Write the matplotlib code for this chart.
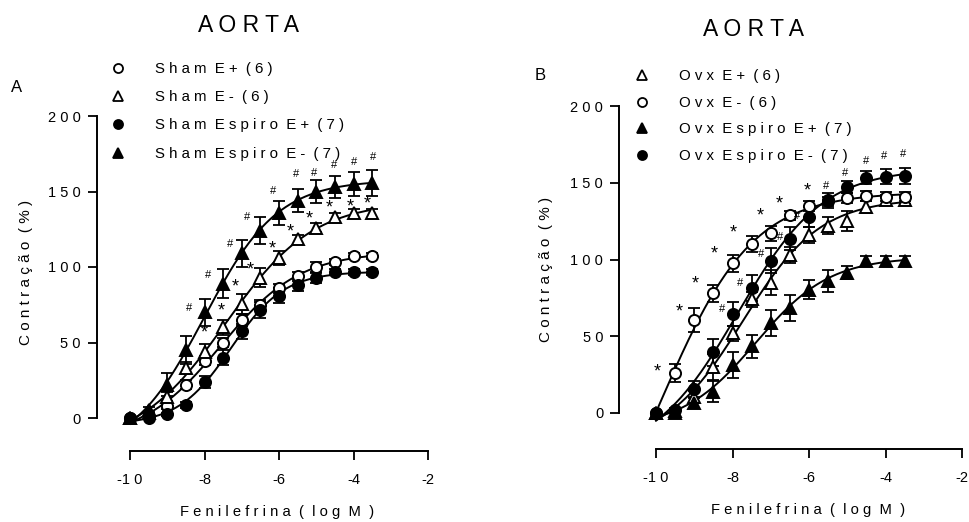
import numpy as np
import matplotlib
matplotlib.use("Agg")
import matplotlib.pyplot as plt
from matplotlib.lines import Line2D

plt.rcParams["font.family"] = ["Liberation Sans", "DejaVu Sans"]

# log [fenilefrina] (M)
log_conc = [-10, -9.5, -9, -8.5, -8, -7.5, -7, -6.5, -6, -5.5, -5, -4.5, -4, -3.5]

# panel A - Sham
sham_e_pos = [0, 1, 8, 22, 38, 50, 65, 75, 86, 94, 100, 103.5, 107, 107]
sham_e_pos_sem = [0, 1, 2, 3, 3, 3, 4, 3, 3, 3, 3, 2, 2, 2]
sham_e_neg = [0, 3, 14, 33, 44, 60, 75.5, 93, 106, 118.5, 126, 133, 135.5, 135.5]
sham_e_neg_sem = [0, 1, 3, 4, 5, 5, 6.5, 6.5, 4.5, 3, 3, 3, 3, 3]
sham_espiro_e_pos = [0, 0, 2.5, 8.5, 24, 40, 57.5, 71.5, 81, 88, 93, 96.5, 96.5, 96.5]
sham_espiro_e_pos_sem = [0, 0, 1, 2, 4, 5, 5, 5, 5, 4, 3.3, 2, 2, 2]
sham_espiro_e_neg = [0, 5, 22, 45, 70, 89, 109, 124, 136, 144, 150, 153, 155, 155.5]
sham_espiro_e_neg_sem = [0, 2, 7.5, 9.5, 9, 9.5, 9, 9, 8, 7.5, 7.5, 7.5, 8, 8.5]

# panel B - Ovx
ovx_e_pos = [0, 1, 10.5, 30, 52, 74, 85, 103, 116, 122, 125, 134, 139, 139]
ovx_e_pos_sem = [0, 1, 4, 8.5, 5, 5, 8, 5, 5, 5.5, 6.5, 4, 3.3, 3]
ovx_e_neg = [0, 26, 60.5, 78, 97.5, 110, 117, 128.7, 134.8, 138, 140, 141.3, 141, 141]
ovx_e_neg_sem = [0, 5.7, 7.6, 5.4, 5.4, 5.4, 5, 3, 3, 3, 3, 3, 3, 3]
ovx_espiro_e_pos = [0, 0, 6.5, 14, 31.5, 43.5, 58.7, 68.5, 80.4, 86, 91.3, 99, 99, 99]
ovx_espiro_e_pos_sem = [0, 0, 3, 7, 8.5, 7.5, 8.5, 8.5, 6, 7, 4.3, 3.3, 3, 3]
ovx_espiro_e_neg = [0, 2, 15.5, 39.5, 64.5, 81.5, 99.3, 113.5, 127.6, 138.5, 147.2, 153.3, 154, 154.3]
ovx_espiro_e_neg_sem = [0, 1, 5.4, 8.7, 7.8, 8.7, 8.4, 7.6, 6.5, 4.9, 3.8, 4.3, 4.9, 5.4]

# significance marks (x, y)
sham_hash_x = [-8.42, -7.91, -7.32, -6.86, -6.17, -5.54, -5.07, -4.52, -3.99, -3.48]
sham_hash_y = [72.6, 95, 115, 133, 150, 161.6, 162.5, 167.5, 169.7, 173]
sham_star_x = [-8.0, -7.56, -7.18, -6.76, -6.17, -5.70, -5.19, -4.65, -4.09, -3.62]
sham_star_y = [56.5, 71, 86.5, 98, 112, 123, 131.5, 139, 140, 142]
ovx_hash_x = [-8.26, -7.80, -7.25, -6.76, -6.31, -5.56, -5.06, -4.52, -4.04, -3.53]
ovx_hash_y = [67.8, 84.8, 103.3, 114.8, 128.3, 147.8, 156.5, 164, 167.4, 168.5]
ovx_star_x = [-9.98, -9.39, -8.98, -8.48, -7.98, -7.28, -6.78, -6.05, -4.55]
ovx_star_y = [27, 65.7, 84, 103.7, 117.4, 128.3, 136.3, 144.6, 149]

x_ticks = [-10, -8, -6, -4, -2]
y_ticks = [0, 50, 100, 150, 200]

labels_A = ["Sham E+ (6)", "Sham E- (6)", "Sham Espiro E+ (7)", "Sham Espiro E- (7)"]
labels_B = ["Ovx E+ (6)", "Ovx E- (6)", "Ovx Espiro E+ (7)", "Ovx Espiro E- (7)"]


def spaced(s):
    return "  ".join(" ".join(w) for w in s.split())


def tick_text(v):
    s = str(abs(v))
    return ("-" if v < 0 else "") + " ".join(s)


def fit_curve(x, y):
    # sigmoid dose-response fit (bottom, top, logEC50, hill)
    x = np.asarray(x, float)
    y = np.asarray(y, float)
    n = len(x)
    c = np.arange(-9.9, -5.0, 0.01)[:, None, None]
    h = np.arange(0.3, 2.0, 0.01)[None, :, None]
    f = 1.0 / (1.0 + 10 ** ((c - x) * h))
    sf, sff = f.sum(-1), (f * f).sum(-1)
    sy, sfy = y.sum(), (f * y).sum(-1)
    span = (n * sfy - sf * sy) / (n * sff - sf ** 2)
    bot = (sy - span * sf) / n
    err = ((bot[..., None] + span[..., None] * f - y) ** 2).sum(-1)
    i, j = np.unravel_index(err.argmin(), err.shape)
    xs = np.linspace(x.min(), x.max(), 200)
    ys = bot[i, j] + span[i, j] / (1.0 + 10 ** ((c[i, 0, 0] - xs) * h[0, j, 0]))
    return xs, ys


def draw_series(ax, y, sem, marker, filled, ms):
    xs, ys = fit_curve(log_conc, y)
    ax.plot(xs, ys, color="black", lw=1.4, clip_on=False, zorder=2)
    ax.errorbar(log_conc, y, yerr=sem, fmt="none", ecolor="black",
                elinewidth=1.3, capsize=4, capthick=1.3, clip_on=False, zorder=3)
    h, = ax.plot(log_conc, y, ls="none", marker=marker, ms=ms,
                 mfc="black" if filled else "white", mec="black", mew=1.4,
                 clip_on=False, zorder=4)
    return h


def style_axes(ax, off_left, off_bottom, ylab_xy, xlab_xy):
    ax.set_xlim(-10, -2)
    ax.set_ylim(0, 200)
    ax.set_xticks(x_ticks)
    ax.set_yticks(y_ticks)
    ax.set_xticklabels([tick_text(t) for t in x_ticks])
    ax.set_yticklabels([tick_text(t) for t in y_ticks])
    for s in ["top", "right"]:
        ax.spines[s].set_visible(False)
    ax.spines["left"].set_position(("outward", off_left))
    ax.spines["bottom"].set_position(("outward", off_bottom))
    for s in ["left", "bottom"]:
        ax.spines[s].set_linewidth(1.4)
    ax.tick_params(direction="out", length=6.5, width=1.3, labelsize=10.5)
    ax.tick_params(axis="x", pad=9)
    ax.tick_params(axis="y", pad=5)
    ax.set_xlabel(spaced("Fenilefrina ( log M )"), fontsize=10.6)
    ax.set_ylabel(spaced("Contração (%)"), fontsize=11)
    ax.yaxis.set_label_coords(*ylab_xy)
    ax.xaxis.set_label_coords(*xlab_xy)


def marks(ax, xs, ys, sym, size):
    for x, y in zip(xs, ys):
        ax.text(x, y, sym, ha="center", va="center", fontsize=size, zorder=5)


def legend_handles(handles):
    out = []
    for h in handles:
        out.append(Line2D([], [], ls="none", marker=h.get_marker(), ms=6.5,
                          mfc=h.get_markerfacecolor(), mec="black", mew=1.3))
    return out


fig = plt.figure(figsize=(9.7, 5.22), dpi=100)
W, H = 970, 522

axA = fig.add_axes([130 / W, (H - 418) / H, (428 - 130) / W, (418 - 116) / H])
axB = fig.add_axes([656 / W, (H - 413) / H, (962 - 656) / W, (413 - 106) / H])

style_axes(axA, 24, 24, (-0.325, 0.483), (0.495, -0.288))
style_axes(axB, 26.5, 26, (-0.337, 0.469), (0.497, -0.293))

hA = [
    draw_series(axA, sham_e_pos, sham_e_pos_sem, "o", False, 8),
    draw_series(axA, sham_e_neg, sham_e_neg_sem, "^", False, 8.5),
    draw_series(axA, sham_espiro_e_pos, sham_espiro_e_pos_sem, "o", True, 8),
    draw_series(axA, sham_espiro_e_neg, sham_espiro_e_neg_sem, "^", True, 8.5),
]
marks(axA, sham_hash_x, sham_hash_y, "#", 8)
marks(axA, sham_star_x, sham_star_y, "*", 13)

hB = [
    draw_series(axB, ovx_e_pos, ovx_e_pos_sem, "^", False, 8.5),
    draw_series(axB, ovx_e_neg, ovx_e_neg_sem, "o", False, 8),
    draw_series(axB, ovx_espiro_e_pos, ovx_espiro_e_pos_sem, "^", True, 8.5),
    draw_series(axB, ovx_espiro_e_neg, ovx_espiro_e_neg_sem, "o", True, 8),
]
marks(axB, ovx_hash_x, ovx_hash_y, "#", 8)
marks(axB, ovx_star_x, ovx_star_y, "*", 13)

fig.legend(legend_handles(hA), [spaced(s) for s in labels_A],
           loc="upper left", bbox_to_anchor=(111 / W, 1 - 62 / H),
           frameon=False, fontsize=10.8, handlelength=1, handletextpad=1.95,
           labelspacing=0.95, borderpad=0, borderaxespad=0)
fig.legend(legend_handles(hB), [spaced(s) for s in labels_B],
           loc="upper left", bbox_to_anchor=(635 / W, 1 - 69 / H),
           frameon=False, fontsize=10.8, handlelength=1, handletextpad=1.95,
           labelspacing=0.85, borderpad=0, borderaxespad=0)

fig.text(249 / W, 1 - 26 / H, spaced("AORTA"), ha="center", va="center", fontsize=16.5)
fig.text(754 / W, 1 - 30 / H, spaced("AORTA"), ha="center", va="center", fontsize=16.5)
fig.text(17 / W, 1 - 88 / H, "A", ha="center", va="center", fontsize=12)
fig.text(540 / W, 1 - 76 / H, "B", ha="center", va="center", fontsize=12)

fig.savefig("out.png", dpi=100)
